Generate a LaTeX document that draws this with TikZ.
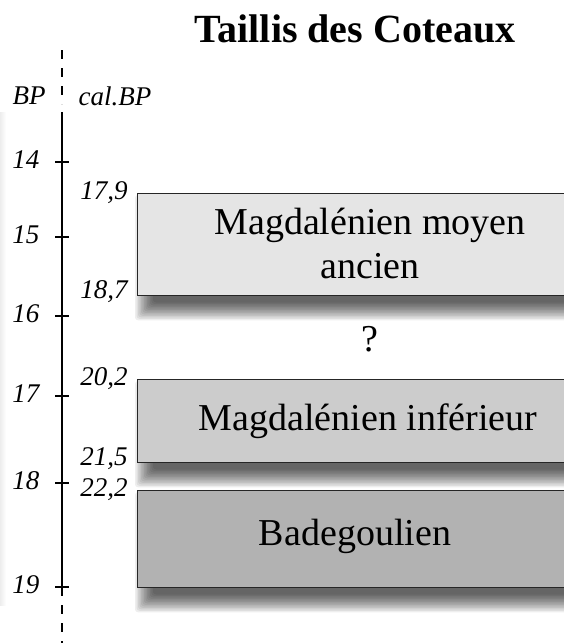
\documentclass[tikz,border=0pt]{standalone}
\usepackage{fontspec}
\setmainfont{Liberation Serif}
\pgfdeclarelayer{background}
\pgfsetlayers{background,main}
\begin{document}
\begin{tikzpicture}[x=1pt,y=-1pt,
  axisline/.style={line width=1.4pt,black},
  dashaxis/.style={line width=1.4pt,black,dash pattern=on 9pt off 9pt},
  tickmark/.style={line width=1.4pt,black},
  period/.style={draw=black!85,line width=1.3pt,anchor=north west,inner sep=0pt},
  shadowlayer/.style={fill=black,opacity=0.065,rounded corners=3pt},
  bigtext/.style={font=\fontsize{38}{44}\selectfont,anchor=base,inner sep=0pt},
  datelabel/.style={font=\fontsize{27}{30}\selectfont\itshape,inner sep=0pt},
]
\useasboundingbox (0,0) rectangle (564,643);
\clip (0,0) rectangle (564,643);
\begin{pgfonlayer}{background}
\fill[white] (0,0) rectangle (564,643);
\shade[left color=black!7,right color=white] (0,112) rectangle (6,605);
\end{pgfonlayer}

% title
\node[font=\fontsize{40}{46}\selectfont\bfseries,anchor=base,inner sep=0pt] (title) at (355,42) {Taillis des Coteaux};

% axis
\coordinate (atop) at (62,50);
\coordinate (adash1) at (62,104);
\coordinate (asol1) at (62,112);
\coordinate (asol2) at (62,587);
\coordinate (abot) at (62,643);
\draw[dashaxis] (atop) -- (adash1);
\draw[axisline] (asol1) -- (asol2);
\draw[dashaxis] (asol2) -- (abot);

% axis headers
\node[datelabel] (bp) at (29,96) {BP};
\node[datelabel] (calbp) at (115,96) {cal.BP};

% ticks and BP labels
\foreach \v/\yy in {14/162,15/237,16/316,17/396,18/483,19/587}{
  \coordinate (tl\v) at (55,\yy);
  \coordinate (tr\v) at (69,\yy);
  \draw[tickmark] (tl\v) -- (tr\v);
  \node[datelabel] (bp\v) at (26,\yy-2) {\v};
}

% boxes
\node[period,fill=black!10,minimum width=466pt,minimum height=102pt] (box1) at (137,193) {};
\node[period,fill=black!20,minimum width=462pt,minimum height=83pt] (box2) at (137,379) {};
\node[period,fill=black!30,minimum width=436pt,minimum height=97pt] (box3) at (137,490) {};

% blurred drop shadows
\begin{pgfonlayer}{background}
\foreach \b in {box1,box2,box3}{
  \foreach \r in {-7,-5.5,...,11}{
    \fill[shadowlayer] ([shift={(9-\r,13-\r)}]\b.north west) rectangle ([shift={(9+\r,13+\r)}]\b.south east);
  }
}
\end{pgfonlayer}

% box texts
\node[bigtext] (t1a) at (370,234) {Magdalénien moyen};
\node[bigtext] (t1b) at (370,278) {ancien};
\node[bigtext] (q) at (370,351) {?};
\node[bigtext] (t2) at (368,430) {Magdalénien inférieur};
\node[bigtext] (t3) at (355,545) {Badegoulien};

% cal BP labels
\node[datelabel] (c1) at (104,193) {17,9};
\node[datelabel] (c2) at (104,292) {18,7};
\node[datelabel] (c3) at (104,379) {20,2};
\node[datelabel] (c4) at (104,459) {21,5};
\node[datelabel] (c5) at (104,490) {22,2};
\end{tikzpicture}
\end{document}
